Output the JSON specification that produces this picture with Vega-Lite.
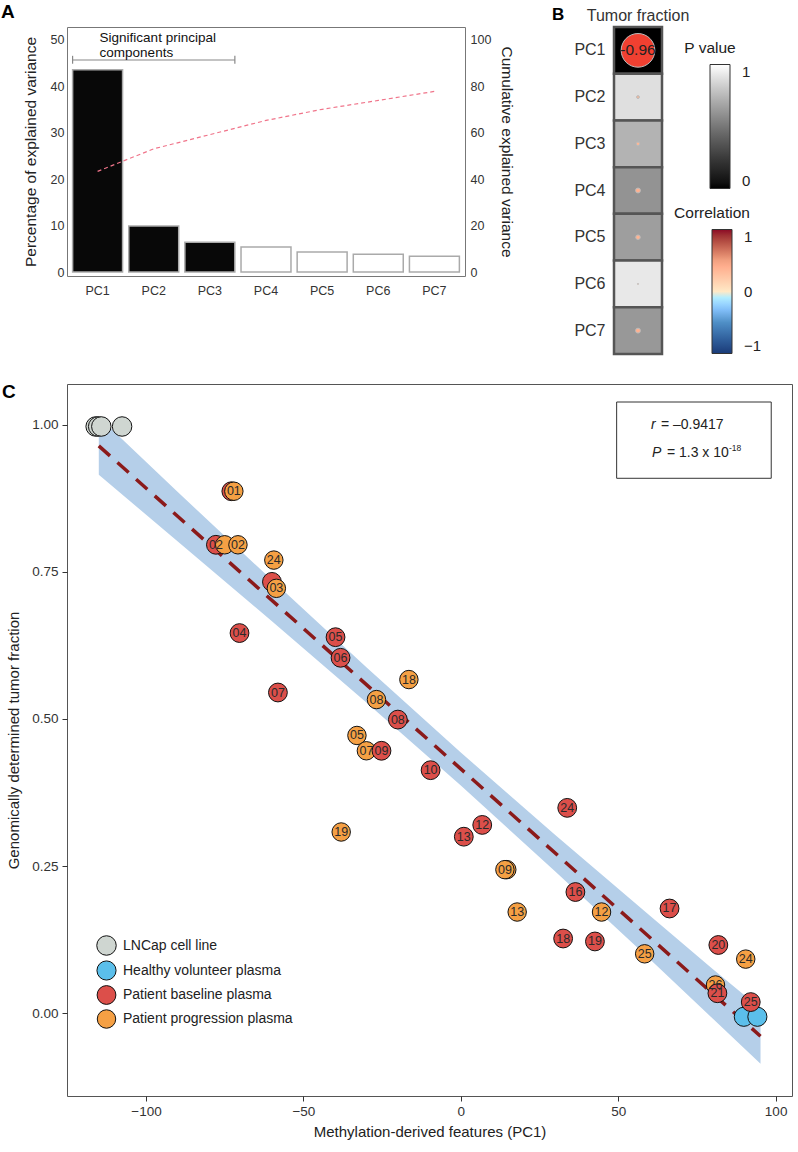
{
  "$schema": "https://vega.github.io/schema/vega-lite/v6.json",
  "background": "white",
  "padding": {"left": 0, "top": 2, "right": 0, "bottom": 0},
  "config": {
    "font": "Liberation Sans",
    "view": {"stroke": "#666666"},
    "axis": {"grid": false, "labelColor": "#333333", "titleColor": "#222222", "titleFontWeight": "normal", "labelFont": "Liberation Sans", "titleFont": "Liberation Sans"},
    "legend": {"labelFont": "Liberation Sans", "titleFont": "Liberation Sans", "labelColor": "#222222", "titleColor": "#222222"},
    "title": {"font": "Liberation Sans", "color": "#000000"}
  },
  "resolve": {"scale": {"color": "independent", "fill": "independent", "stroke": "independent", "size": "independent"}, "legend": {"color": "independent", "fill": "independent", "stroke": "independent", "size": "independent"}},
  "datasets": {
    "pca": [
      {"PC": "PC1", "variance": 43.5, "cumulative": 43.3, "significant": "yes"},
      {"PC": "PC2", "variance": 9.9, "cumulative": 53.0, "significant": "yes"},
      {"PC": "PC3", "variance": 6.4, "cumulative": 59.1, "significant": "yes"},
      {"PC": "PC4", "variance": 5.4, "cumulative": 65.2, "significant": "no"},
      {"PC": "PC5", "variance": 4.3, "cumulative": 70.0, "significant": "no"},
      {"PC": "PC6", "variance": 3.8, "cumulative": 73.8, "significant": "no"},
      {"PC": "PC7", "variance": 3.4, "cumulative": 77.7, "significant": "no"}
    ],
    "corr": [
      {"target": "Tumor fraction", "PC": "PC1", "pvalue": 0.0, "corr": -0.96, "abs_corr": 0.96, "label": "-0.96"},
      {"target": "Tumor fraction", "PC": "PC2", "pvalue": 0.89, "corr": 0.08, "abs_corr": 0.08, "label": ""},
      {"target": "Tumor fraction", "PC": "PC3", "pvalue": 0.73, "corr": 0.1, "abs_corr": 0.1, "label": ""},
      {"target": "Tumor fraction", "PC": "PC4", "pvalue": 0.61, "corr": 0.14, "abs_corr": 0.14, "label": ""},
      {"target": "Tumor fraction", "PC": "PC5", "pvalue": 0.65, "corr": 0.13, "abs_corr": 0.13, "label": ""},
      {"target": "Tumor fraction", "PC": "PC6", "pvalue": 0.92, "corr": 0.03, "abs_corr": 0.03, "label": ""},
      {"target": "Tumor fraction", "PC": "PC7", "pvalue": 0.63, "corr": 0.14, "abs_corr": 0.14, "label": ""}
    ],
    "pts": [
      {"x": -116.0, "y": 0.997, "group": "LNCap cell line", "label": ""},
      {"x": -115.2, "y": 0.997, "group": "LNCap cell line", "label": ""},
      {"x": -114.2, "y": 0.997, "group": "LNCap cell line", "label": ""},
      {"x": -107.6, "y": 0.997, "group": "LNCap cell line", "label": ""},
      {"x": 89.9, "y": -0.006, "group": "Healthy volunteer plasma", "label": ""},
      {"x": 94.2, "y": -0.006, "group": "Healthy volunteer plasma", "label": ""},
      {"x": -72.9, "y": 0.887, "group": "Patient baseline plasma", "label": ""},
      {"x": -77.8, "y": 0.796, "group": "Patient baseline plasma", "label": "02"},
      {"x": -60.0, "y": 0.733, "group": "Patient baseline plasma", "label": ""},
      {"x": -70.3, "y": 0.646, "group": "Patient baseline plasma", "label": "04"},
      {"x": -39.8, "y": 0.639, "group": "Patient baseline plasma", "label": "05"},
      {"x": -38.2, "y": 0.604, "group": "Patient baseline plasma", "label": "06"},
      {"x": -58.1, "y": 0.545, "group": "Patient baseline plasma", "label": "07"},
      {"x": -20.0, "y": 0.499, "group": "Patient baseline plasma", "label": "08"},
      {"x": -9.6, "y": 0.413, "group": "Patient baseline plasma", "label": "10"},
      {"x": 6.8, "y": 0.32, "group": "Patient baseline plasma", "label": "12"},
      {"x": 0.95, "y": 0.3, "group": "Patient baseline plasma", "label": "13"},
      {"x": 36.4, "y": 0.206, "group": "Patient baseline plasma", "label": "16"},
      {"x": 66.3, "y": 0.178, "group": "Patient baseline plasma", "label": "17"},
      {"x": 32.5, "y": 0.127, "group": "Patient baseline plasma", "label": "18"},
      {"x": 42.6, "y": 0.122, "group": "Patient baseline plasma", "label": "19"},
      {"x": 81.8, "y": 0.116, "group": "Patient baseline plasma", "label": "20"},
      {"x": 33.8, "y": 0.349, "group": "Patient baseline plasma", "label": "24"},
      {"x": 92.1, "y": 0.019, "group": "Patient baseline plasma", "label": "25"},
      {"x": -72.1, "y": 0.887, "group": "Patient progression plasma", "label": "01"},
      {"x": -75.0, "y": 0.796, "group": "Patient progression plasma", "label": ""},
      {"x": -70.8, "y": 0.796, "group": "Patient progression plasma", "label": "02"},
      {"x": -59.4, "y": 0.77, "group": "Patient progression plasma", "label": "24"},
      {"x": -58.6, "y": 0.722, "group": "Patient progression plasma", "label": "03"},
      {"x": -16.5, "y": 0.567, "group": "Patient progression plasma", "label": "18"},
      {"x": -26.8, "y": 0.533, "group": "Patient progression plasma", "label": "08"},
      {"x": -33.0, "y": 0.472, "group": "Patient progression plasma", "label": "05"},
      {"x": -30.0, "y": 0.446, "group": "Patient progression plasma", "label": "07"},
      {"x": -38.0, "y": 0.308, "group": "Patient progression plasma", "label": "19"},
      {"x": 14.6, "y": 0.244, "group": "Patient progression plasma", "label": ""},
      {"x": 14.0, "y": 0.244, "group": "Patient progression plasma", "label": "09"},
      {"x": 17.9, "y": 0.172, "group": "Patient progression plasma", "label": "13"},
      {"x": 44.7, "y": 0.172, "group": "Patient progression plasma", "label": "12"},
      {"x": 58.4, "y": 0.101, "group": "Patient progression plasma", "label": "25"},
      {"x": 90.5, "y": 0.092, "group": "Patient progression plasma", "label": "24"},
      {"x": 80.9, "y": 0.048, "group": "Patient progression plasma", "label": "26"},
      {"x": -25.2, "y": 0.446, "group": "Patient baseline plasma", "label": "09"},
      {"x": 81.5, "y": 0.034, "group": "Patient baseline plasma", "label": "21"}
    ],
    "band": [
      {"x": -115.0, "lo": 0.915, "hi": 1.013},
      {"x": -90.0, "lo": 0.802, "hi": 0.886},
      {"x": -60.0, "lo": 0.666, "hi": 0.736},
      {"x": -30.0, "lo": 0.528, "hi": 0.588},
      {"x": 0.0, "lo": 0.387, "hi": 0.443},
      {"x": 30.0, "lo": 0.241, "hi": 0.303},
      {"x": 60.0, "lo": 0.092, "hi": 0.166},
      {"x": 80.0, "lo": -0.009, "hi": 0.075},
      {"x": 95.2, "lo": -0.086, "hi": 0.008}
    ],
    "fit": [
      {"x": -115.0, "y": 0.964},
      {"x": 95.2, "y": -0.039}
    ]
  },
  "vconcat": [
    {
      "resolve": {"scale": {"color": "independent", "fill": "independent", "stroke": "independent", "size": "independent"}, "legend": {"color": "independent", "fill": "independent", "stroke": "independent", "size": "independent"}},
      "hconcat": [
        {
          "width": 398,
          "height": 249,
          "view": {"stroke": "#777777"},
          "title": {"text": "A", "anchor": "start", "frame": "group", "fontSize": 19, "fontWeight": "bold", "dx": -66, "offset": 5},
          "layer": [
            {
              "layer": [
                {
                  "data": {"name": "pca"},
                  "mark": {"type": "bar", "stroke": "#aaaaaa", "strokeWidth": 1.5},
                  "encoding": {
                    "x": {"field": "PC", "type": "nominal", "sort": null, "scale": {"paddingInner": 0.11, "paddingOuter": 0.1}, "axis": {"title": null, "labelAngle": 0, "ticks": false, "domain": false, "labelPadding": 8, "labelFontSize": 12.5}},
                    "y": {"field": "variance", "type": "quantitative", "scale": {"domain": [-0.86, 52.7], "nice": false, "zero": false}, "axis": {"title": "Percentage of explained variance", "values": [0, 10, 20, 30, 40, 50], "ticks": false, "domain": false, "labelPadding": 3, "titlePadding": 12, "titleFontSize": 15.5, "labelFontSize": 12.5}},
                    "fill": {"field": "significant", "type": "nominal", "scale": {"domain": ["yes", "no"], "range": ["#080808", "#ffffff"]}, "legend": null}
                  }
                },
                {
                  "data": {"values": [{"from": "PC1", "to": "PC3", "y": 45.6}]},
                  "mark": {"type": "rule", "color": "#888888", "strokeWidth": 1.2, "xOffset": -25, "x2Offset": 25},
                  "encoding": {"x": {"field": "from", "type": "nominal"}, "x2": {"field": "to"}, "y": {"field": "y", "type": "quantitative"}}
                },
                {
                  "data": {"values": [{"pc": "PC1", "y1": 44.8, "y2": 46.5}]},
                  "mark": {"type": "rule", "color": "#888888", "strokeWidth": 1.2, "xOffset": -25},
                  "encoding": {"x": {"field": "pc", "type": "nominal"}, "y": {"field": "y1", "type": "quantitative"}, "y2": {"field": "y2"}}
                },
                {
                  "data": {"values": [{"pc": "PC3", "y1": 44.8, "y2": 46.5}]},
                  "mark": {"type": "rule", "color": "#888888", "strokeWidth": 1.2, "xOffset": 25},
                  "encoding": {"x": {"field": "pc", "type": "nominal"}, "y": {"field": "y1", "type": "quantitative"}, "y2": {"field": "y2"}}
                },
                {
                  "data": {"values": [{"pc": "PC1", "y": 50.3, "t": "Significant principal\ncomponents"}]},
                  "mark": {"type": "text", "align": "left", "baseline": "middle", "fontSize": 13.5, "lineHeight": 15, "lineBreak": "\n", "color": "#111111", "dx": 2},
                  "encoding": {"x": {"field": "pc", "type": "nominal"}, "y": {"field": "y", "type": "quantitative"}, "text": {"field": "t"}}
                }
              ]
            },
            {
              "data": {"name": "pca"},
              "mark": {"type": "line", "color": "#f0748a", "strokeDash": [4, 3], "strokeWidth": 1.2},
              "encoding": {
                "x": {"field": "PC", "type": "nominal", "sort": null},
                "y": {"field": "cumulative", "type": "quantitative", "scale": {"domain": [-1.72, 105.4], "nice": false, "zero": false}, "axis": {"orient": "right", "title": "Cumulative explained variance", "values": [0, 20, 40, 60, 80, 100], "ticks": false, "domain": false, "labelPadding": 5, "titlePadding": 8, "titleFontSize": 15.5, "labelFontSize": 12.5}}
              }
            }
          ],
          "resolve": {"scale": {"y": "independent"}}
        },
        {
          "width": 48,
          "height": 327,
          "view": {"stroke": null},
          "title": {"text": "B", "anchor": "start", "frame": "group", "fontSize": 17, "fontWeight": "bold", "dx": -62, "offset": -17},
          "data": {"name": "corr"},
          "resolve": {"scale": {"color": "independent", "fill": "independent", "stroke": "independent", "size": "independent"}},
          "layer": [
            {
              "mark": {"type": "rect", "stroke": "#555555", "strokeWidth": 2.5},
              "encoding": {
                "x": {"field": "target", "type": "nominal", "axis": {"orient": "top", "title": null, "labelAngle": 0, "ticks": false, "domain": false, "labelFontSize": 16, "labelPadding": 4}},
                "y": {"field": "PC", "type": "nominal", "sort": null, "axis": {"title": null, "ticks": false, "domain": false, "labelFontSize": 16, "labelPadding": 9}},
                "fill": {"field": "pvalue", "type": "quantitative", "scale": {"domain": [0, 1], "range": ["#000000", "#ffffff"]}, "legend": {"title": "P value", "orient": "none", "legendX": 70, "legendY": 14, "direction": "vertical", "gradientLength": 124, "gradientThickness": 20, "values": [0, 1], "format": "d", "titleFontSize": 15.5, "titleFontWeight": "normal", "labelFontSize": 15, "labelOffset": 12, "titleAnchor": "start", "titleAlign": "center", "titlePadding": 8, "gradientStrokeColor": "#333333", "gradientStrokeWidth": 1}}
              }
            },
            {
              "mark": {"type": "circle", "stroke": "#bbbbbb", "strokeWidth": 1, "opacity": 1},
              "encoding": {
                "x": {"field": "target", "type": "nominal"},
                "y": {"field": "PC", "type": "nominal", "sort": null},
                "size": {"field": "abs_corr", "type": "quantitative", "scale": {"type": "pow", "exponent": 2, "domain": [0, 1], "range": [0, 1230]}, "legend": null},
                "color": {"field": "abs_corr", "type": "quantitative", "scale": {"domain": [0, 1], "range": ["#ffffff", "#ea3a2d"]}, "legend": null}
              }
            },
            {
              "mark": {"type": "text", "fontSize": 15.5, "color": "#222222"},
              "encoding": {
                "x": {"field": "target", "type": "nominal"},
                "y": {"field": "PC", "type": "nominal", "sort": null},
                "text": {"field": "label"}
              }
            },
            {
              "mark": {"type": "point", "opacity": 0},
              "encoding": {
                "x": {"field": "target", "type": "nominal"},
                "y": {"field": "PC", "type": "nominal", "sort": null},
                "stroke": {"field": "corr", "type": "quantitative", "scale": {"domain": [-1, -0.5, 0, 0.5, 1], "range": ["#1a3b78", "#4f8fc6", "#ffffff", "#f2a080", "#8b0a25"]}, "legend": {"title": "Correlation", "orient": "none", "legendX": 60, "legendY": 179, "direction": "vertical", "gradientLength": 124, "gradientThickness": 20, "values": [-1, 0, 1], "format": "d", "titleFontSize": 15.5, "titleFontWeight": "normal", "labelFontSize": 15, "labelOffset": 12, "titleAnchor": "start", "titleAlign": "center", "titlePadding": 8, "gradientStrokeColor": "#333333", "gradientStrokeWidth": 1}}
              }
            }
          ]
        }
      ],
      "spacing": 37
    },
    {
      "width": 725,
      "height": 712,
      "view": {"stroke": "#555555"},
      "title": {"text": "C", "anchor": "start", "frame": "group", "fontSize": 19, "fontWeight": "bold", "dx": -65, "offset": -18},
      "layer": [
        {
          "data": {"name": "band"},
          "mark": {"type": "area", "color": "#b5cfe9", "opacity": 1},
          "encoding": {
            "x": {"field": "x", "type": "quantitative", "scale": {"domain": [-125.1, 105.2], "nice": false, "zero": false}, "axis": {"title": "Methylation-derived features (PC1)", "values": [-100, -50, 0, 50, 100], "tickColor": "#333333", "tickSize": 5, "domain": false, "labelFontSize": 13.5, "titleFontSize": 15, "labelPadding": 3, "titlePadding": 7}},
            "y": {"field": "lo", "type": "quantitative", "scale": {"domain": [-0.1406, 1.0692], "nice": false, "zero": false}, "axis": {"title": "Genomically determined tumor fraction", "values": [0, 0.25, 0.5, 0.75, 1], "format": ".2f", "tickColor": "#333333", "tickSize": 5, "domain": false, "labelFontSize": 13.5, "titleFontSize": 15, "labelPadding": 4, "titlePadding": 10}},
            "y2": {"field": "hi"}
          }
        },
        {
          "data": {"name": "fit"},
          "mark": {"type": "line", "color": "#8b1a1a", "strokeWidth": 3.5, "strokeDash": [15, 10]},
          "encoding": {"x": {"field": "x", "type": "quantitative"}, "y": {"field": "y", "type": "quantitative"}}
        },
        {
          "data": {"name": "pts"},
          "mark": {"type": "circle", "stroke": "#111111", "strokeWidth": 1, "opacity": 1},
          "encoding": {
            "x": {"field": "x", "type": "quantitative"},
            "y": {"field": "y", "type": "quantitative"},
            "color": {"field": "group", "type": "nominal", "sort": null, "scale": {"domain": ["LNCap cell line", "Healthy volunteer plasma", "Patient baseline plasma", "Patient progression plasma"], "range": ["#cfd6d1", "#5bbfeb", "#dc4f4a", "#f5a044"]}, "legend": {"title": null, "orient": "none", "legendX": 29, "legendY": 551, "symbolType": "circle", "symbolSize": 250, "symbolStrokeColor": "#111111", "symbolStrokeWidth": 1, "symbolOpacity": 1, "labelFontSize": 14, "labelLimit": 400, "rowPadding": 0, "labelOffset": 6}},
            "size": {"field": "group", "type": "ordinal", "scale": {"domain": ["LNCap cell line", "Healthy volunteer plasma", "Patient baseline plasma", "Patient progression plasma"], "range": [380, 340, 290, 290]}, "legend": null}
          }
        },
        {
          "data": {"name": "pts"},
          "mark": {"type": "text", "fontSize": 12.5, "color": "#2a2a2a"},
          "encoding": {"x": {"field": "x", "type": "quantitative"}, "y": {"field": "y", "type": "quantitative"}, "text": {"field": "label"}}
        },
        {
          "data": {"values": [{"x1": 49.5, "x2": 98.6, "y1": 0.909, "y2": 1.0386}]},
          "mark": {"type": "rect", "fill": null, "stroke": "#333333", "strokeWidth": 1},
          "encoding": {"x": {"field": "x1", "type": "quantitative"}, "x2": {"field": "x2"}, "y": {"field": "y1", "type": "quantitative"}, "y2": {"field": "y2"}}
        },
        {
          "data": {"values": [{"x": 60.4, "y": 1.0, "t": "r"}, {"x": 60.7, "y": 0.952, "t": "P"}]},
          "mark": {"type": "text", "align": "left", "baseline": "middle", "fontSize": 14, "fontStyle": "italic", "color": "#222222"},
          "encoding": {"x": {"field": "x", "type": "quantitative"}, "y": {"field": "y", "type": "quantitative"}, "text": {"field": "t"}}
        },
        {
          "data": {"values": [{"x": 60.4, "y": 1.0, "t": "= –0.9417"}]},
          "mark": {"type": "text", "align": "left", "baseline": "middle", "fontSize": 14, "color": "#222222", "dx": 10},
          "encoding": {"x": {"field": "x", "type": "quantitative"}, "y": {"field": "y", "type": "quantitative"}, "text": {"field": "t"}}
        },
        {
          "data": {"values": [{"x": 60.7, "y": 0.952, "t": "= 1.3 x 10"}]},
          "mark": {"type": "text", "align": "left", "baseline": "middle", "fontSize": 14, "color": "#222222", "dx": 15},
          "encoding": {"x": {"field": "x", "type": "quantitative"}, "y": {"field": "y", "type": "quantitative"}, "text": {"field": "t"}}
        },
        {
          "data": {"values": [{"x": 60.7, "y": 0.952, "t": "-18"}]},
          "mark": {"type": "text", "align": "left", "baseline": "middle", "fontSize": 8.5, "color": "#222222", "dx": 77, "dy": -5},
          "encoding": {"x": {"field": "x", "type": "quantitative"}, "y": {"field": "y", "type": "quantitative"}, "text": {"field": "t"}}
        }
      ]
    }
  ],
  "spacing": 26
}
